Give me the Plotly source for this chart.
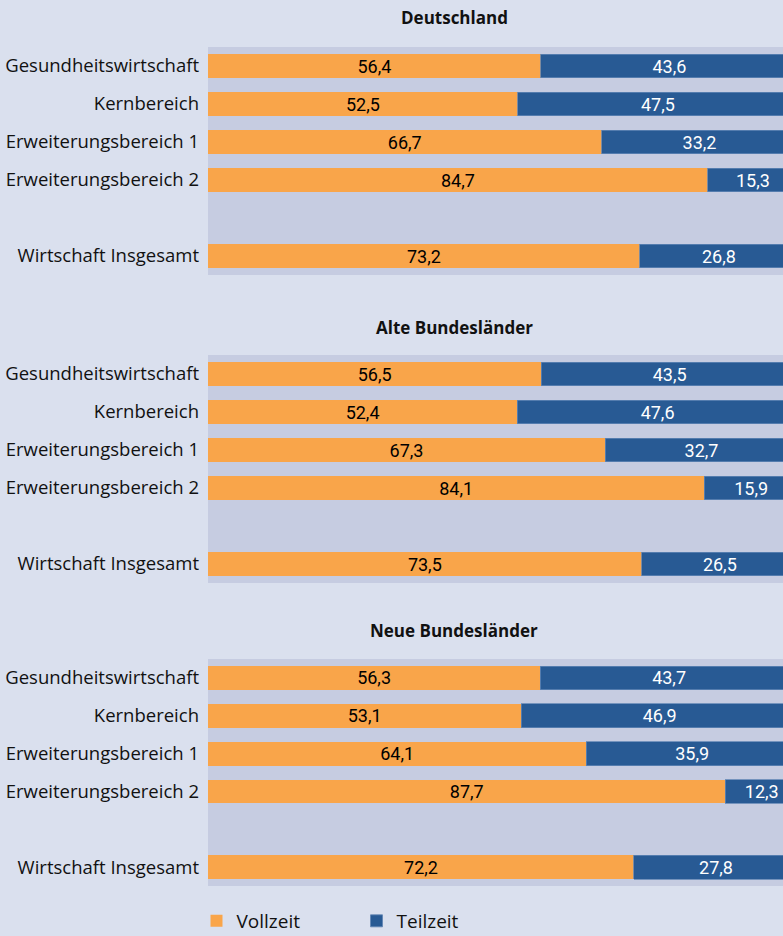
import plotly.graph_objects as go

# Anteile der Beschäftigten in Voll- und Teilzeit (in %)
kategorien = ["Gesundheitswirtschaft", "Kernbereich", "Erweiterungsbereich 1",
              "Erweiterungsbereich 2", " ", "Wirtschaft Insgesamt"]
zeilen = ["Gesundheitswirtschaft", "Kernbereich", "Erweiterungsbereich 1",
          "Erweiterungsbereich 2", "Wirtschaft Insgesamt"]

regionen = ["Deutschland", "Alte Bundesländer", "Neue Bundesländer"]

vollzeit = {
    "Deutschland": [56.4, 52.5, 66.7, 84.7, 73.2],
    "Alte Bundesländer": [56.5, 52.4, 67.3, 84.1, 73.5],
    "Neue Bundesländer": [56.3, 53.1, 64.1, 87.7, 72.2],
}
teilzeit = {
    "Deutschland": [43.6, 47.5, 33.2, 15.3, 26.8],
    "Alte Bundesländer": [43.5, 47.6, 32.7, 15.9, 26.5],
    "Neue Bundesländer": [43.7, 46.9, 35.9, 12.3, 27.8],
}

ORANGE = "#F9A54A"
BLAU = "#285A94"
HINTERGRUND = "#DAE0EE"
PLOTFLAECHE = "#C6CCE1"
SCHRIFT = "Open Sans, sans-serif"
ZAHLEN = "Roboto, Open Sans, sans-serif"

H = 936
# Pixelgrenzen der drei Felder (oben, unten)
panels = [(47, 275), (355, 583), (659, 886)]
titel_y = [17, 327, 630]

fig = go.Figure()

for i, reg in enumerate(regionen):
    ax = "" if i == 0 else str(i + 1)
    fig.add_trace(go.Bar(
        y=zeilen, x=vollzeit[reg], orientation="h", name="Vollzeit",
        marker=dict(color=ORANGE, line=dict(width=0)),
        texttemplate="%{x:.1f}", textposition="inside", insidetextanchor="middle",
        textfont=dict(color="black", size=18, family=ZAHLEN),
        constraintext="none", cliponaxis=True,
        xaxis="x" + ax, yaxis="y" + ax, showlegend=(i == 0), legendgroup="v",
        hoverinfo="x+y",
    ))
    fig.add_trace(go.Bar(
        y=zeilen, x=teilzeit[reg], orientation="h", name="Teilzeit",
        marker=dict(color=BLAU, line=dict(width=0.8, color="#5F84B4")),
        texttemplate="%{x:.1f}", textposition="inside", insidetextanchor="middle",
        textfont=dict(color="white", size=18, family=ZAHLEN),
        constraintext="none", cliponaxis=True,
        xaxis="x" + ax, yaxis="y" + ax, showlegend=(i == 0), legendgroup="t",
        hoverinfo="x+y",
    ))
    top, bot = panels[i]
    fig.layout["yaxis" + ax] = dict(
        domain=[1 - bot / H, 1 - top / H],
        anchor="x" + ax, type="category",
        categoryorder="array", categoryarray=kategorien,
        range=[5.5, -0.5], showgrid=False, zeroline=False,
        ticks="", ticklabelstandoff=8,
        tickfont=dict(family=SCHRIFT, size=18.5, color="#111111"),
    )
    fig.layout["xaxis" + ax] = dict(
        anchor="y" + ax, range=[0, 97.46], showgrid=False, zeroline=False,
        showticklabels=False, ticks="",
    )
    fig.add_annotation(
        text="<b>" + reg + "</b>", xref="paper", yref="paper",
        x=(454 - 208) / 575, y=1 - titel_y[i] / H, xanchor="center", yanchor="middle",
        showarrow=False, font=dict(family="Open Sans, sans-serif", size=17, color="#111111"),
    )

fig.update_layout(
    width=783, height=936,
    margin=dict(l=208, r=0, t=0, b=0, autoexpand=False),
    paper_bgcolor=HINTERGRUND, plot_bgcolor=PLOTFLAECHE,
    barmode="stack", bargap=0.37, separators=",.",
    legend=dict(
        orientation="h", x=-0.02, y=1 - 921 / H, xanchor="left", yanchor="middle",
        font=dict(family=SCHRIFT, size=19, color="#111111"),
        entrywidth=115, bgcolor="rgba(0,0,0,0)", traceorder="normal",
    ),
)

# Seitenrand des Browsers entfernen, damit die Grafik bei (0,0) beginnt
fig.write_html("out.html", config={"displayModeBar": False},
               post_script="document.body.style.margin='0';")
